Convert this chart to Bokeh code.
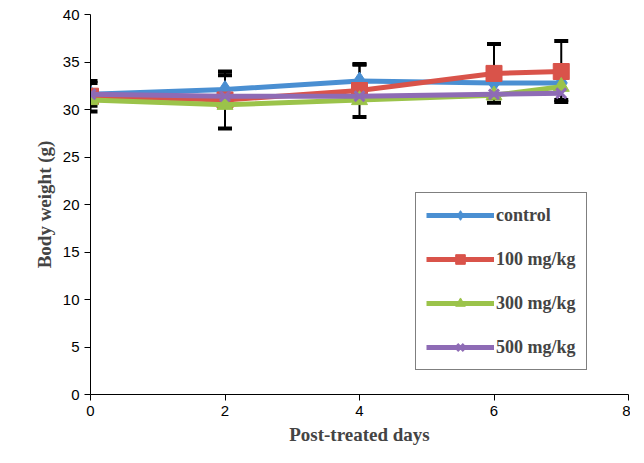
from bokeh.plotting import figure
from bokeh.models import Legend, LegendItem, Whisker, ColumnDataSource, FixedTicker
from bokeh.embed import file_html
from bokeh.resources import INLINE

days = [0, 2, 4, 6, 7]
control = [31.6, 32.1, 33.0, 32.8, 32.8]
mg100 = [31.4, 31.0, 32.0, 33.8, 34.0]
mg300 = [31.0, 30.5, 31.0, 31.5, 32.4]
mg500 = [31.6, 31.4, 31.4, 31.6, 31.7]
control_err = [1.2, 1.5, 1.7, 1.6, 1.8]
mg100_err = [1.6, 3.0, 2.8, 3.1, 3.2]

p = figure(width=630, height=447, output_backend="svg", toolbar_location=None,
           x_range=(0, 8), y_range=(0, 40), min_border_left=90, min_border_right=2,
           min_border_top=14, min_border_bottom=50)
p.xgrid.visible = False
p.ygrid.visible = False
p.outline_line_color = None
for ax in (p.xaxis[0], p.yaxis[0]):
    ax.axis_line_color = "black"
    ax.major_tick_line_color = "black"
    ax.minor_tick_line_color = None
    ax.major_label_text_font = "Liberation Sans"
    ax.major_label_text_font_size = "15px"
    ax.major_label_text_color = "black"
    ax.axis_label_text_font = "Liberation Serif"
    ax.axis_label_text_font_style = "bold"
    ax.axis_label_text_font_size = "19px"
    ax.major_tick_in = 0
    ax.major_tick_out = 6
p.xaxis.ticker = FixedTicker(ticks=[0, 2, 4, 6, 8])
p.yaxis.ticker = FixedTicker(ticks=list(range(0, 41, 5)))
p.xaxis.axis_label = "Post-treated days"
p.yaxis.axis_label = "Body weight (g)"

for vals, err in ((control, control_err), (mg100, mg100_err)):
    src = ColumnDataSource(dict(x=days, up=[v + e for v, e in zip(vals, err)],
                                lo=[v - e for v, e in zip(vals, err)]))
    p.add_layout(Whisker(source=src, base="x", upper="up", lower="lo",
                         line_color="black", line_width=2,
                         upper_head=None, lower_head=None))
    for key in ("up", "lo"):
        p.dash(x="x", y=key, source=src, size=14, line_width=4, color="black")

c1 = "#4a8fd2"; c2 = "#d9534a"; c3 = "#9bc34a"; c4 = "#8e6bb5"
l1 = p.line(days, control, color=c1, line_width=5)
m1 = p.scatter(days, control, marker="diamond", size=18, color=c1)
l2 = p.line(days, mg100, color=c2, line_width=5)
m2 = p.scatter(days, mg100, marker="square", size=16, color=c2)
l3 = p.line(days, mg300, color=c3, line_width=5)
m3 = p.scatter(days, mg300, marker="triangle", size=16, color=c3)
l4 = p.line(days, mg500, color=c4, line_width=5)
m4 = p.scatter(days, mg500, marker="x", size=14, line_width=3, color=c4)

legend = Legend(items=[LegendItem(label="control", renderers=[l1, m1]),
                       LegendItem(label="100 mg/kg", renderers=[l2, m2]),
                       LegendItem(label="300 mg/kg", renderers=[l3, m3]),
                       LegendItem(label="500 mg/kg", renderers=[l4, m4])],
                location=(325, 24), border_line_color="black", border_line_width=1,
                label_text_font="Liberation Serif", label_text_font_style="bold",
                label_text_font_size="18px", spacing=20, glyph_width=68, glyph_height=24,
                padding=10, margin=0, label_standoff=2)
p.add_layout(legend)

open("out.html", "w").write(file_html(p, INLINE))
